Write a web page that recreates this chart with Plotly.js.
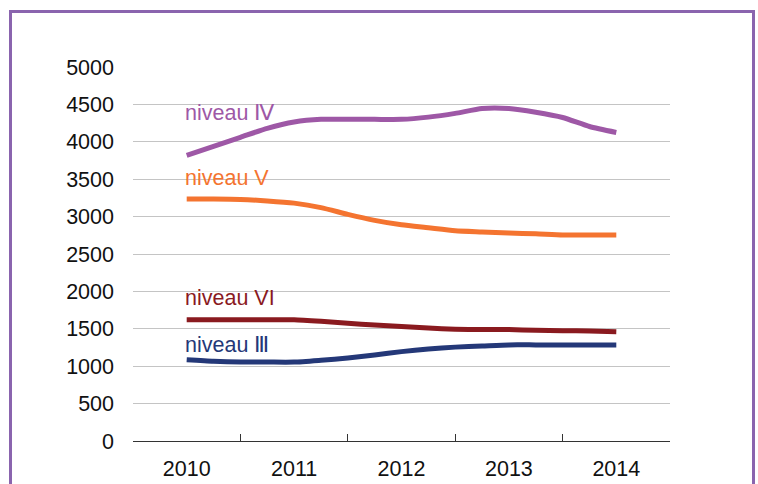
<!DOCTYPE html>
<html>
<head>
<meta charset="utf-8">
<script src="https://cdn.plot.ly/plotly-3.0.1.min.js"></script>
<style>
  html, body { margin: 0; padding: 0; background: #fff; }
  #wrap { position: relative; width: 758px; height: 484px; overflow: hidden; }
  #chart { position: absolute; left: 0; top: 0; width: 758px; height: 484px; }
  #frame { position: absolute; left: 9px; top: 10px; width: 740px; height: 500px;
           border: 3px solid #8a64ae; pointer-events: none; }
</style>
</head>
<body>
<div id="wrap">
  <div id="chart"></div>
  <div id="frame"></div>
</div>
<script>
// Quarterly positions from mid-2010 to mid-2014 (one point per quarter)
const xQuarter = [2010, 2010.25, 2010.5, 2010.75, 2011, 2011.25, 2011.5, 2011.75, 2012,
                  2012.25, 2012.5, 2012.75, 2013, 2013.25, 2013.5, 2013.75, 2014];
const yearLabels = ['2010', '2011', '2012', '2013', '2014'];
const yearValues = [2010, 2011, 2012, 2013, 2014];

const niveauIV  = [3820, 3940, 4060, 4180, 4265, 4300, 4300, 4300, 4300,
                   4330, 4380, 4445, 4445, 4395, 4325, 4205, 4125];
const niveauV   = [3235, 3235, 3230, 3210, 3180, 3120, 3030, 2950, 2890,
                   2850, 2810, 2795, 2780, 2770, 2755, 2755, 2755];
const niveauVI  = [1620, 1620, 1620, 1620, 1620, 1600, 1575, 1550, 1530,
                   1510, 1495, 1490, 1490, 1480, 1475, 1470, 1460];
const niveauIII = [1085, 1065, 1055, 1055, 1055, 1080, 1110, 1150, 1195,
                   1230, 1255, 1270, 1285, 1285, 1285, 1285, 1285];

const seriesNames  = ['niveau Ⅳ', 'niveau V', 'niveau VI', 'niveau Ⅲ'];
const seriesValues = [niveauIV, niveauV, niveauVI, niveauIII];
const seriesColors = ['#9e58a6', '#f47430', '#8a1a1f', '#243878'];
const labelY       = [4390, 3510, 1915, 1290];

const traces = seriesValues.map((vals, i) => ({
  type: 'scatter', mode: 'lines', x: xQuarter, y: vals, name: seriesNames[i],
  line: { color: seriesColors[i], width: 5, shape: 'spline', smoothing: 0.6 },
  hoverinfo: 'skip'
}));

const annotations = seriesNames.map((n, i) => ({
  x: 2009.965, y: labelY[i], xref: 'x', yref: 'y', text: n, showarrow: false,
  xanchor: 'left', yanchor: 'middle',
  font: { family: 'Liberation Sans, Arial, sans-serif', size: 21.5, color: seriesColors[i] }
}));

const layout = {
  width: 758, height: 484,
  margin: { l: 133, r: 88, t: 67, b: 43 },
  paper_bgcolor: '#ffffff', plot_bgcolor: '#ffffff',
  showlegend: false,
  font: { family: 'Liberation Sans, Arial, sans-serif', size: 21.5, color: '#111' },
  xaxis: {
    range: [2009.5, 2014.5], tickmode: 'array', tickvals: yearValues, ticktext: yearLabels,
    ticks: '', showgrid: false, zeroline: false,
    showline: true, linecolor: '#333', linewidth: 1.2,
    ticklabelstandoff: 8,
    minor: { tickmode: 'array', tickvals: [2010.5, 2011.5, 2012.5, 2013.5],
             ticks: 'inside', ticklen: 7, tickwidth: 1, tickcolor: '#333', showgrid: false },
    fixedrange: true
  },
  yaxis: {
    range: [0, 5000], tickmode: 'linear', tick0: 0, dtick: 500,
    showgrid: true, gridcolor: '#c4c4c4', gridwidth: 1,
    zeroline: false, showline: false, ticks: '', ticklabelstandoff: 18,
    fixedrange: true
  },
  annotations: annotations
};

Plotly.newPlot('chart', traces, layout, { staticPlot: true, displayModeBar: false });
</script>
</body>
</html>
